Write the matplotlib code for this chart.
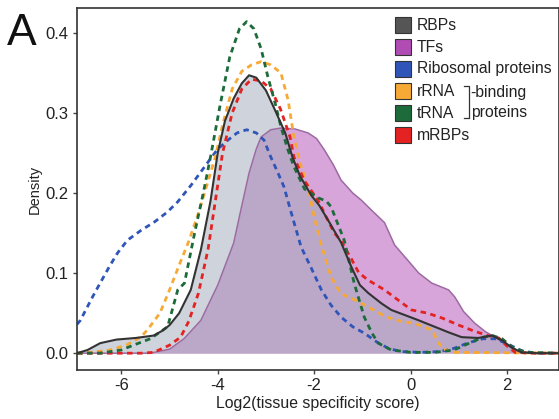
import numpy as np
import matplotlib.pyplot as plt
from matplotlib.patches import Rectangle

plt.rcParams['font.family'] = ['Liberation Sans', 'DejaVu Sans']

# density curves (x = log2 tissue specificity score)
rbp_x = [-6.92, -6.7, -6.44, -6.1, -5.7, -5.33, -5.15, -5.0, -4.8, -4.56, -4.35, -4.15, -4.0, -3.85, -3.67,
         -3.5, -3.35, -3.2, -3.0, -2.8, -2.6, -2.45, -2.3, -2.06, -1.9, -1.71, -1.44, -1.23, -1.05, -0.875,
         -0.6, -0.4, 0.17, 0.79, 1.06, 1.4, 1.69, 1.9, 2.1, 2.3, 2.6, 3.1]
rbp_y = [0.0, 0.004, 0.0125, 0.017, 0.019, 0.022, 0.028, 0.035, 0.05, 0.079, 0.129, 0.19, 0.25, 0.29, 0.318,
         0.337, 0.347, 0.344, 0.328, 0.302, 0.275, 0.245, 0.222, 0.197, 0.185, 0.166, 0.138, 0.108, 0.085, 0.075,
         0.062, 0.054, 0.041, 0.026, 0.02, 0.019, 0.022, 0.016, 0.007, 0.001, 0.0, 0.0]

tf_x = [-6.92, -5.4, -5.0, -4.7, -4.35, -4.0, -3.67, -3.52, -3.35, -3.2, -3.1, -2.9, -2.7, -2.4, -2.125,
        -1.95, -1.79, -1.6, -1.44, -1.2, -1.02, -0.8, -0.54, -0.33, 0.0, 0.17, 0.44, 0.79, 0.92, 1.1,
        1.33, 1.55, 1.75, 2.0, 2.17, 2.5, 3.1]
tf_y = [0.0, 0.0, 0.005, 0.018, 0.041, 0.085, 0.1375, 0.179, 0.225, 0.255, 0.27, 0.279, 0.281, 0.28, 0.275,
        0.268, 0.254, 0.235, 0.216, 0.2, 0.191, 0.178, 0.163, 0.135, 0.112, 0.1, 0.0875, 0.079, 0.07, 0.052,
        0.0375, 0.027, 0.02, 0.01, 0.004, 0.0, 0.0]

ribo_x = [-6.92, -6.85, -6.6, -6.44, -6.25, -6.08, -5.875, -5.6, -5.31, -5.05, -4.83, -4.55, -4.27, -4.0,
          -3.79, -3.6, -3.4, -3.2, -3.04, -2.9, -2.75, -2.625, -2.45, -2.27, -2.05, -1.85, -1.65, -1.44,
          -1.2, -0.96, -0.7, -0.46, -0.2, 0.2, 0.6, 0.9, 1.2, 1.5, 1.75, 2.0, 2.3, 2.6, 3.1]
ribo_y = [0.036, 0.041, 0.07, 0.0875, 0.108, 0.125, 0.141, 0.153, 0.164, 0.176, 0.189, 0.21, 0.233, 0.255,
          0.266, 0.275, 0.279, 0.275, 0.266, 0.245, 0.225, 0.2075, 0.17, 0.1325, 0.105, 0.079, 0.06, 0.045,
          0.033, 0.025, 0.014, 0.006, 0.002, 0.001, 0.002, 0.006, 0.013, 0.018, 0.018, 0.012, 0.003, 0.0, 0.0]

rrna_x = [-6.92, -6.79, -6.5, -6.23, -5.9, -5.6, -5.46, -5.2, -5.0, -4.8, -4.6, -4.4, -4.2, -4.05, -3.9,
          -3.7, -3.5, -3.3, -3.1, -2.9, -2.69, -2.54, -2.42, -2.27, -2.125, -2.0, -1.85, -1.65, -1.45,
          -1.29, -1.1, -0.8, -0.5, -0.2, 0.1, 0.44, 0.65, 0.9, 3.1]
rrna_y = [0.0, 0.0, 0.002, 0.004, 0.01, 0.02, 0.029, 0.05, 0.079, 0.11, 0.14, 0.175, 0.215, 0.245, 0.285,
          0.33, 0.352, 0.36, 0.364, 0.36, 0.35, 0.316, 0.27, 0.233, 0.2075, 0.17, 0.135, 0.095, 0.075,
          0.07, 0.065, 0.055, 0.045, 0.04, 0.037, 0.029, 0.006, 0.001, 0.0]

trna_x = [-6.92, -6.44, -6.0, -5.75, -5.4, -5.04, -4.83, -4.69, -4.48, -4.3, -4.15, -3.95, -3.75, -3.55,
          -3.4, -3.25, -3.1, -2.96, -2.8, -2.69, -2.55, -2.42, -2.2, -1.92, -1.75, -1.65, -1.5, -1.375,
          -1.17, -0.96, -0.8, -0.67, -0.4, 0.0, 0.5, 0.9, 1.2, 1.5, 1.7, 1.9, 2.1, 2.4, 3.1]
trna_y = [0.0, 0.0, 0.004, 0.01, 0.018, 0.033, 0.079, 0.0875, 0.15, 0.2, 0.245, 0.31, 0.37, 0.405,
          0.414, 0.405, 0.38, 0.345, 0.31, 0.283, 0.255, 0.233, 0.205, 0.194, 0.19, 0.183, 0.16, 0.141,
          0.0875, 0.045, 0.025, 0.0125, 0.004, 0.001, 0.001, 0.004, 0.012, 0.02, 0.022, 0.018, 0.008, 0.001, 0.0]

mrbp_x = [-6.92, -5.6, -5.33, -5.0, -4.77, -4.6, -4.4, -4.2, -4.05, -3.9, -3.7, -3.5, -3.3, -3.1, -2.9,
          -2.7, -2.5, -2.42, -2.2, -1.92, -1.75, -1.58, -1.44, -1.23, -1.08, -0.9, -0.54, -0.25, 0.02, 0.35,
          0.65, 1.0, 1.3, 1.6, 1.83, 2.0, 2.17, 2.5, 3.1]
mrbp_y = [0.0, 0.0, 0.001, 0.01, 0.02, 0.04, 0.075, 0.13, 0.19, 0.25, 0.3, 0.33, 0.342, 0.34, 0.33,
          0.305, 0.27, 0.245, 0.215, 0.191, 0.17, 0.15, 0.14, 0.118, 0.101, 0.092, 0.079, 0.066, 0.054, 0.05,
          0.044, 0.035, 0.028, 0.022, 0.019, 0.009, 0.001, 0.0, 0.0]

labels = ['RBPs', 'TFs', 'Ribosomal proteins', 'rRNA', 'tRNA', 'mRBPs']
colors = ['#555555', '#b04cb4', '#2f55b8', '#f7a935', '#1d6b3a', '#e42222']

fig = plt.figure(figsize=(5.59, 4.19), dpi=100)
ax = fig.add_axes([77 / 559, 1 - 370 / 419, 1 - 77 / 559, 362 / 419])

ax.fill_between(tf_x, tf_y, color='#b04cb4', alpha=0.5, lw=0)
ax.plot(tf_x, tf_y, color='#9c6aa2', lw=1.1)
ax.fill_between(rbp_x, rbp_y, color='#a1a9b9', alpha=0.5, lw=0)

dash = (0, (2, 1.6))
ax.plot(ribo_x, ribo_y, color=colors[2], lw=2, ls=dash)
ax.plot(rrna_x, rrna_y, color=colors[3], lw=2, ls=dash)
ax.plot(mrbp_x, mrbp_y, color=colors[5], lw=2, ls=dash)
ax.plot(trna_x, trna_y, color=colors[4], lw=2, ls=dash)
ax.plot(rbp_x, rbp_y, color='#333333', lw=1.5)

ax.set_xlim(-6.92, 3.08)
ax.set_ylim(-0.021, 0.431)
ax.set_xticks([-6, -4, -2, 0, 2])
ax.set_xticklabels(['-6', '-4', '-2', '0', '2'])
ax.set_yticks([0.0, 0.1, 0.2, 0.3, 0.4])
ax.set_yticklabels(['0.0', '0.1', '0.2', '0.3', '0.4'])
ax.tick_params(labelsize=12, length=3, width=1, color='#444444', labelcolor='#222222', pad=3)
for s in ax.spines.values():
    s.set_color('#333333')
    s.set_linewidth(1.2)
ax.set_xlabel('Log2(tissue specificity score)', fontsize=11.4, color='#222222', labelpad=2)
ax.set_ylabel('Density', fontsize=10.5, color='#222222', labelpad=3)

fig.text(7 / 559, 1 - 45 / 419, 'A', fontsize=32, color='#111111', ha='left', va='baseline')

# legend drawn by hand (the bracket needs it)
row_y = [25, 47, 69, 91, 113, 135]
for lab, col, ry in zip(labels, colors, row_y):
    fig.patches.append(Rectangle((395 / 559, 1 - (ry + 8) / 419), 16 / 559, 16 / 419,
                                 transform=fig.transFigure, facecolor=col,
                                 edgecolor='#333333', lw=0.8))
    fig.text(417 / 559, 1 - ry / 419, lab, fontsize=11.3, color='#222222', va='center', ha='left')

fig.lines.append(plt.Line2D([464 / 559, 469 / 559, 469 / 559, 464 / 559],
                            [1 - 86 / 419, 1 - 86 / 419, 1 - 118 / 419, 1 - 118 / 419],
                            transform=fig.transFigure, color='#333333', lw=0.9))
fig.text(470 / 559, 1 - 92 / 419, '-binding', fontsize=11.3, color='#222222', va='center', ha='left')
fig.text(471 / 559, 1 - 112 / 419, 'proteins', fontsize=11.3, color='#222222', va='center', ha='left')

fig.savefig('out.png', dpi=100)
